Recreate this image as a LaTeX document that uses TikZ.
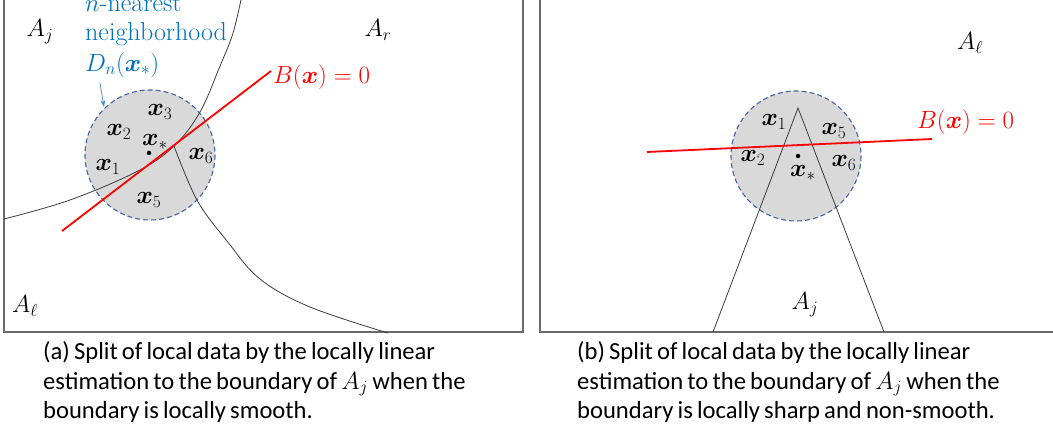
\documentclass[tikz,border=0pt]{standalone}
\usepackage{amsmath,bm}
\usepackage{fontspec}
\newfontfamily\capfont{Carlito}
\newcommand\capsetup{\capfont\fontsize{24.6}{29}\selectfont\spaceskip=0.17em plus 0.05em minus 0.04em\relax}
\usetikzlibrary{arrows.meta}
\definecolor{offblue}{RGB}{0,112,192}
\definecolor{arrowblue}{RGB}{80,140,205}
\definecolor{ringblue}{RGB}{68,100,160}
\definecolor{fillgray}{RGB}{217,217,217}
\definecolor{boxgray}{RGB}{105,105,105}
\definecolor{curvegray}{RGB}{60,60,60}
\definecolor{bred}{RGB}{255,0,0}
\begin{document}
\begin{tikzpicture}[x=1pt,y=-1pt,
  panel/.style={draw=boxgray,line width=1.4pt},
  ring/.style={fill=fillgray,draw=ringblue,line width=1.1pt,dash pattern=on 5pt off 3pt},
  bound/.style={draw=curvegray,line width=0.8pt},
  estline/.style={draw=bred,line width=1.8pt},
  lbl/.style={font=\fontsize{24}{28}\selectfont,inner sep=0pt},
  rlbl/.style={font=\fontsize{25}{28}\selectfont,inner sep=0pt,text=bred,anchor=west},
  bluetxt/.style={font=\fontsize{26}{30}\selectfont,inner sep=0pt,text=offblue,anchor=west},
  captxt/.style={font=\capsetup,inner sep=0pt,anchor=base west},
  dotstyle/.style={circle,fill=black,inner sep=0pt,minimum size=4.5pt}
]
\useasboundingbox (0,0) rectangle (1053,433);
\clip (0,0) rectangle (1053,433);

% ---------- panel (a) ----------
\draw[panel] (4,-20) rectangle (523,332);
\fill[ring] (150,155) circle[radius=65];
\draw[bound] plot[smooth,tension=0.6] coordinates {(4,219) (70,200) (138,171) (174,146) (200,112) (220,66) (233,33) (242,-5)};
\draw[bound] plot[smooth,tension=0.6] coordinates {(174,146) (197,200) (227,241) (260,279) (310,307) (388,333)};
\coordinate (ra1) at (62,231);
\coordinate (ra2) at (271,71);
\draw[estline] (ra1) -- (ra2);
\node[rlbl] (Ba) at (273,77) {$B(\bm{x})=0$};

\node[dotstyle] (sa) at (149,153) {};
\node[lbl] (a3) at (160,112) {$\bm{x}_3$};
\node[lbl] (a2) at (119,132) {$\bm{x}_2$};
\node[lbl] (as) at (155,142) {$\bm{x}_*$};
\node[lbl] (a1) at (108,167) {$\bm{x}_1$};
\node[lbl] (a6) at (201,156) {$\bm{x}_6$};
\node[lbl] (a5) at (149,200) {$\bm{x}_5$};

\node[lbl] (Aja) at (40,32) {$A_j$};
\node[lbl] (Ara) at (378,30) {$A_r$};
\node[lbl] (Ala) at (25,306) {$A_\ell$};

\node[bluetxt] (t1) at (85,4) {$n$-nearest};
\node[bluetxt] (t2) at (85,34) {neighborhood};
\node[bluetxt] (t3) at (85,65) {$D_n(\bm{x}_*)$};
\coordinate (arS) at (100,83);
\coordinate (arE) at (104,107);
\draw[arrowblue,line width=0.8pt,-{Stealth[length=7pt,width=5pt]}] (arS) -- (arE);

% ---------- panel (b) ----------
\draw[panel] (540,-20) rectangle (1070,332);
\fill[ring] (796,156) circle[radius=65];
\coordinate (tl) at (713,332);
\coordinate (tt) at (798,108);
\coordinate (tr) at (884,332);
\draw[bound] (tl) -- (tt) -- (tr);
\coordinate (rb1) at (647,152);
\coordinate (rb2) at (932,139);
\draw[estline] (rb1) -- (rb2);
\node[rlbl] (Bb) at (917,122) {$B(\bm{x})=0$};

\node[dotstyle] (sb) at (798,156) {};
\node[lbl] (b1) at (774,122) {$\bm{x}_1$};
\node[lbl] (b5) at (834,131) {$\bm{x}_5$};
\node[lbl] (b2) at (753,158) {$\bm{x}_2$};
\node[lbl] (b6) at (844,163) {$\bm{x}_6$};
\node[lbl] (bs) at (803,173) {$\bm{x}_*$};
\node[lbl] (Alb) at (970,43) {$A_\ell$};
\node[lbl] (Ajb) at (805,305) {$A_j$};

% ---------- captions ----------
\node[captxt] (ca1) at (43,359) {(a) Split of local data by the locally linear};
\node[captxt] (ca2) at (43,389) {estimation to the boundary of $A_j$ when the};
\node[captxt] (ca3) at (43,418) {boundary is locally smooth.};
\node[captxt] (cb1) at (577,359) {(b) Split of local data by the locally linear};
\node[captxt] (cb2) at (577,389) {estimation to the boundary of $A_j$ when the};
\node[captxt] (cb3) at (577,418) {boundary is locally sharp and non-smooth.};
\end{tikzpicture}
\end{document}
